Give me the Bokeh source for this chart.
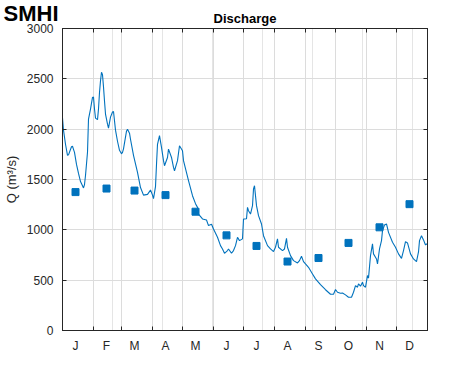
from bokeh.plotting import figure
from bokeh.models import FixedTicker, LinearAxis, Label, Range1d, Grid
from bokeh.embed import file_html
from bokeh.resources import INLINE

months = ["J", "F", "M", "A", "M", "J", "J", "A", "S", "O", "N", "D"]
month_days = [31, 28, 31, 30, 31, 30, 31, 31, 30, 31, 30, 31]
monthly_mean = [1375, 1410, 1390, 1345, 1180, 945, 840, 685, 720, 870, 1025, 1255]
y_ticks = [0, 500, 1000, 1500, 2000, 2500, 3000]

day = [0, 1, 3, 5, 6, 9, 10, 11, 12, 14, 16, 18, 20, 21, 22, 23, 25, 26, 28, 30, 31, 32, 33,
       35, 36, 37, 38, 39, 40, 41, 42, 43, 45, 46, 48, 50, 51, 53, 55, 57, 59, 60, 61, 64, 65,
       67, 68, 71, 75, 78, 81, 85, 88, 90, 91, 93, 94, 95, 97, 99, 101, 102, 105, 106, 109,
       111, 112, 115, 117, 120, 121, 126, 130, 133, 135, 136, 140, 144, 146, 149, 151, 155,
       158, 160, 162, 165, 166, 169, 171, 173, 175, 177, 180, 181, 182, 184, 185, 186, 188,
       190, 191, 192, 194, 196, 199, 201, 205, 208, 211, 213, 215, 216, 220, 222, 224, 225,
       228, 231, 235, 237, 239, 241, 243, 246, 250, 253, 258, 263, 268, 271, 273, 275, 278,
       280, 283, 286, 289, 291, 293, 295, 296, 298, 300, 301, 303, 305, 306, 308, 310, 311,
       314, 315, 317, 319, 320, 322, 324, 326, 330, 333, 336, 339, 341, 343, 345, 348, 351,
       354, 356, 357, 359, 361, 363, 364, 365]
discharge = [2110, 1990, 1850, 1740, 1745, 1825, 1830, 1800, 1770, 1650, 1560, 1480, 1438,
             1416, 1450, 1540, 1770, 2100, 2200, 2315, 2320, 2200, 2110, 2095, 2200, 2364,
             2480, 2565, 2540, 2420, 2280, 2150, 2050, 2010, 2120, 2170, 2175, 1990, 1880,
             1790, 1755, 1770, 1805, 1980, 2000, 1960, 1900, 1740, 1570, 1420, 1345, 1352,
             1395, 1345, 1310, 1430, 1650, 1850, 1935, 1819, 1687, 1637, 1719, 1802, 1719,
             1620, 1587, 1687, 1835, 1786, 1687, 1488, 1339, 1260, 1223, 1157, 1108, 1098,
             1042, 1055, 1009, 926, 843, 810, 767, 794, 810, 767, 794, 843, 926, 893, 910,
             1108, 1108, 1110, 1223, 1190, 1157, 1240, 1406, 1438, 1240, 1141, 1058, 942, 843,
             810, 784, 827, 910, 827, 794, 810, 916, 827, 744, 694, 671, 694, 737, 684, 661,
             628, 562, 513, 455, 405, 360, 360, 407, 380, 370, 372, 354, 330, 330, 380, 446,
             430, 463, 440, 479, 446, 430, 546, 520, 744, 860, 761, 711, 661, 810, 893, 992,
             1048, 1058, 975, 876, 827, 761, 717, 794, 883, 870, 761, 711, 684, 780, 893, 942,
             900, 850, 860, 855]

bounds = [0]
for d in month_days:
    bounds.append(bounds[-1] + d)
mids = [b + 13 for b in bounds[:-1]]

BLUE = "#0072BD"
AX = "#262626"
FONT = "Liberation Sans"

p = figure(width=471, height=371, x_range=Range1d(0, 365), y_range=Range1d(0, 3000),
           output_backend="svg", toolbar_location=None,
           x_axis_location=None, y_axis_location=None,
           min_border_left=62, min_border_right=44, min_border_top=28, min_border_bottom=41)
p.outline_line_color = AX
p.outline_line_width = 1
p.background_fill_color = "white"
p.border_fill_color = "white"

# grids
p.add_layout(Grid(dimension=0, ticker=FixedTicker(ticks=bounds), grid_line_color="#dcdcdc"))
p.add_layout(Grid(dimension=1, ticker=FixedTicker(ticks=y_ticks), grid_line_color="#dcdcdc"))

# bottom axis: labels at month middles, tick marks at month boundaries
xb = LinearAxis(ticker=FixedTicker(ticks=mids, minor_ticks=bounds),
                major_label_overrides={m: lab for m, lab in zip(mids, months)})
xb.major_tick_line_color = None
xb.major_tick_out = 0
xb.major_tick_in = 0
xb.minor_tick_in = 4
xb.minor_tick_out = 0
xb.minor_tick_line_color = AX
xb.axis_line_color = AX
xb.major_label_standoff = 8
xb.major_label_text_font = FONT
xb.major_label_text_font_size = "12px"
xb.major_label_text_color = AX
p.add_layout(xb, "below")

# top axis: ticks only
xt = LinearAxis(ticker=FixedTicker(ticks=[], minor_ticks=bounds))
xt.minor_tick_in = 4
xt.minor_tick_out = 0
xt.minor_tick_line_color = AX
xt.major_tick_out = 0
xt.major_label_standoff = 0
xt.axis_line_color = AX
p.add_layout(xt, "above")

# left axis
yl = LinearAxis(ticker=FixedTicker(ticks=y_ticks), axis_label="Q (m³/s)")
yl.major_tick_in = 4
yl.major_tick_out = 0
yl.major_tick_line_color = AX
yl.minor_tick_line_color = None
yl.axis_line_color = AX
yl.major_label_standoff = 9
yl.major_label_text_font = FONT
yl.major_label_text_font_size = "12px"
yl.major_label_text_color = AX
yl.axis_label_text_font = FONT
yl.axis_label_text_font_size = "13px"
yl.axis_label_text_font_style = "normal"
yl.axis_label_text_color = AX
yl.axis_label_standoff = 5
p.add_layout(yl, "left")

# right axis: ticks only
yr = LinearAxis(ticker=FixedTicker(ticks=[], minor_ticks=y_ticks))
yr.minor_tick_in = 4
yr.minor_tick_out = 0
yr.minor_tick_line_color = AX
yr.major_tick_out = 0
yr.major_label_standoff = 0
yr.axis_line_color = AX
p.add_layout(yr, "right")

p.line(day, discharge, line_color=BLUE, line_width=1.1)
p.scatter(mids, monthly_mean, marker="square", size=7, fill_color=BLUE, line_color=BLUE)

# title (kept in the bottom side panel, which has spare room, but drawn above the frame)
p.add_layout(Label(x=182.5, y=3000, y_offset=10, text="Discharge", text_align="center",
                   text_baseline="middle", text_font=FONT, text_font_size="13px",
                   text_font_style="bold", text_color="black"), "below")
# logo text
p.add_layout(Label(x=-59, y=3000, y_offset=15, text="SMHI",
                   text_align="left", text_baseline="middle",
                   text_font=FONT, text_font_size="22px",
                   text_font_style="bold", text_color="black"), "above")

open("out.html", "w").write(file_html(p, INLINE))
